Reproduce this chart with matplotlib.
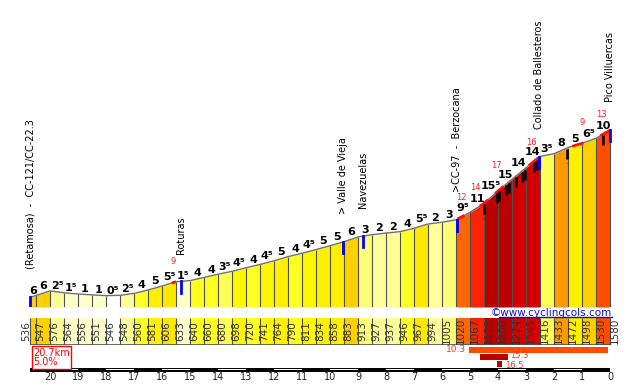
import numpy as np
import matplotlib.pyplot as plt
from matplotlib.lines import Line2D

# ──────────────────────────────────────────────
# DADOS — perfil Pico Villuercas (desde Retamosa)
# ──────────────────────────────────────────────

# km que faltam até o topo, em cada ponto do perfil
km_pts = [20.7, 20.5, 20.0, 19.5, 19.0, 18.5, 18.0, 17.5, 17.0, 16.5, 16.0,
          15.5, 15.0, 14.5, 14.0, 13.5, 13.0, 12.5, 12.0, 11.5, 11.0, 10.5,
          10.0, 9.5, 9.0, 8.5, 8.0, 7.5, 7.0, 6.5, 6.0, 5.5, 5.0, 4.5, 4.0,
          3.5, 3.0, 2.5, 2.0, 1.5, 1.0, 0.5, 0.0]

altitudes = [536, 547, 576, 564, 556, 551, 546, 548, 560, 581, 606, 633, 640,
             660, 680, 698, 720, 741, 764, 790, 811, 834, 858, 883, 913, 927,
             937, 946, 967, 994, 1005, 1020, 1067, 1123, 1200, 1274, 1345,
             1416, 1433, 1472, 1498, 1530, 1580]

# pendente (%) de cada trecho
pendentes = [6, 6, 2.5, 1.5, 1, 1, 0.5, 2.5, 4, 5, 5.5, 1.5, 4, 4, 3.5, 4.5,
             4, 4.5, 5, 4, 4.5, 5, 5, 6, 3, 2, 2, 4, 5.5, 2, 3, 9.5, 11, 15.5,
             15, 14, 14, 3.5, 8, 5, 6.5, 10]

locais = ["(Retamosa)  -  CC-121/CC-22.3", "Roturas", "> Valle de Vieja",
          "Navezuelas", ">CC-97  -  Berzocana", "Collado de Ballesteros",
          "Pico Villuercas"]
locais_km = [20.7, 15.33, 9.52, 8.81, 5.48, 2.52, 0.0]

# pendente máxima pontual (números vermelhos)
max_pend = [9, 12, 14, 17, 16, 9, 13]
max_pend_km = [15.61, 5.3, 4.8, 4.05, 2.79, 1.0, 0.29]

# trechos em vermelho sobre o perfil
trechos_vermelhos = [(15.65, 15.5), (5.45, 5.2), (4.65, 4.35), (4.1, 3.8),
                     (2.9, 2.55), (1.35, 0.95), (0.35, 0.0)]

# rampas (traços pretos)
rampas_km = [4.5, 4.05, 3.96, 3.71, 3.61, 3.37, 3.15, 3.04, 2.71, 2.62,
             1.55, 0.24]

# melhores trechos: (início km, fim km, pendente média)
melhores = [(5.05, 0.08, 10.3), (4.65, 3.65, 15.3), (4.05, 3.85, 16.5)]

distancia_total = 20.7
pendente_media = 5.0
km_ticks = list(range(20, -1, -1))


def cor_pendente(g):
    """Escala de cores usada pelo cyclingcols."""
    g = abs(g)
    escala = [(1, "#FFFFFF"), (2, "#FFFFCC"), (3, "#FFFF99"), (3.5, "#FFFF77"),
              (4, "#FFFF55"), (4.5, "#FFFF22"), (5, "#FFF700"), (5.5, "#FFF000"),
              (6, "#FFE800"), (7, "#FFD000"), (9, "#FF9900"), (10, "#FF6600"),
              (11, "#FF4D00"), (12, "#FF2200"), (15, "#D40000")]
    for limite, c in escala:
        if g < limite:
            return c
    return "#BB0000"


def rotulo(g):
    return f"{int(g)}\u2075" if g % 1 else f"{int(g)}"


# ──────────────────────────────────────────────
# FIGURA
# ──────────────────────────────────────────────
W, H = 633, 389
fig = plt.figure(figsize=(W / 100, H / 100), dpi=100)
plt.rcParams['font.family'] = ['DejaVu Sans']


def eixo(y0, y1):
    ax = fig.add_axes([0, 1 - y1 / H, 1, (y1 - y0) / H])
    ax.set_xlim(610 / 28, -23 / 28)
    ax.axis("off")
    return ax


km = np.array(km_pts)
alt = np.array(altitudes, dtype=float)
cores = [cor_pendente(g) for g in pendentes]

# --- perfil ---
ax = eixo(0, 307)
ax.set_ylim(475, 2394)
base = ax.get_ylim()[0]
for k in range(len(pendentes)):
    ax.fill_between(km[k:k + 2], base, alt[k:k + 2], color=cores[k], lw=0)
ax.vlines(km, base, alt, color="#505050", lw=0.8)
ax.plot(km, alt, color="#707070", lw=1)

for a, b in trechos_vermelhos:
    xs = np.linspace(a, b, 10)
    ax.plot(xs, np.interp(xs, km[::-1], alt[::-1]), color="#FF1010", lw=2,
            solid_capstyle="butt")

for r in rampas_km:
    e = np.interp(r, km[::-1], alt[::-1])
    ax.plot([r, r], [e - 6, e - 90], color="black", lw=1.8,
            ls=(0, (4, 1.5)))

for k, g in enumerate(pendentes):
    xc = (km[k] + km[k + 1]) / 2
    ax.annotate(rotulo(g), (xc, max(alt[k], alt[k + 1])), xytext=(0, 1.2),
                textcoords="offset points", ha="center", va="baseline",
                fontsize=8, fontweight="bold", color="black")

# distância vertical (pt) de cada número vermelho acima do perfil
acima = [15, 14, 15, 19.5, 15, 15, 15]
for v, p, dy in zip(max_pend, max_pend_km, acima):
    ax.annotate(str(v), (p, np.interp(p, km[::-1], alt[::-1])),
                xytext=(0, dy), textcoords="offset points", ha="center",
                va="center", fontsize=6, color="#FF2020")

for nome, p in zip(locais, locais_km):
    e = np.interp(p, km[::-1], alt[::-1])
    ax.plot([p, p], [e, e - 70], color="#0000FF", lw=2)
    ax.annotate(nome, (p, e), xytext=(0, 20), textcoords="offset points",
                rotation=90, ha="center", va="bottom", fontsize=7,
                color="black")

# --- faixa de altitudes ---
ax_s = eixo(317.5, 345)
ax_s.set_ylim(0, 1)
for k in range(len(pendentes)):
    ax_s.fill_between(km[k:k + 2], 0, 1, color=cores[k], lw=0)
ax_s.vlines(km, 0, 1, color="#505050", lw=0.8)
ax_s.hlines(0, km[0], km[-1], color="#505050", lw=1.2)
for k, e in enumerate(altitudes):
    dx = -3.2 if k == 0 else 3.3
    ax_s.annotate(str(e), (km[k], 0.5), xytext=(dx, 0),
                  textcoords="offset points", rotation=90, ha="center",
                  va="center", fontsize=7.5, color="#333333")

# --- barras de melhores trechos, caixa e escala de km ---
ax_i = eixo(345, 389)
ax_i.set_ylim(44, 0)
linhas = [5, 12, 19]
deslocs = [0, 1.2, -1.2]
for (a, b, v), y, dy in zip(melhores, linhas, deslocs):
    ax_i.barh(y, b - a, left=a, height=6, color=cor_pendente(v), lw=0)
    if y == linhas[0]:
        ax_i.annotate(f"{v}", (a, y), xytext=(-2, dy), textcoords="offset points",
                      ha="right", va="center", fontsize=6.5, color="#FF3030")
    else:
        ax_i.annotate(f"{v}", (b, y), xytext=(2, dy), textcoords="offset points",
                      ha="left", va="center", fontsize=6, color="#FF3030")

ax_i.annotate(f"{distancia_total}km\n{pendente_media:.1f}%", (km[0], 2.5),
              xytext=(2, 0), textcoords="offset points", ha="left", va="top",
              fontsize=7, color="#FF0000", linespacing=0.95,
              bbox=dict(boxstyle="square,pad=0.15", fc="white", ec="#FF0000",
                        lw=1))

ax_i.barh(25, km[-1] - km[0], left=km[0], height=4, color="black", lw=0)
for t in km_ticks[:-1:2]:
    ax_i.barh(24.5, -1, left=t, height=1.5, color="white", lw=0)
for t in km_ticks:
    ax_i.text(t, 32.5, str(t), ha="center", va="center", fontsize=7,
              color="#222222")

# --- url ---
url = fig.text(612 / W, 1 - 313 / H, "\u00a9www.cyclingcols.com", ha="right",
               va="center", fontsize=7.5, color="#1010CC")
fig.canvas.draw()
bb = url.get_window_extent()
fig.add_artist(Line2D([bb.x0 + 8, bb.x1], [bb.y0 + 1, bb.y0 + 1],
                      transform=None, color="#1010CC", lw=1))

fig.savefig("out.png", dpi=100)
